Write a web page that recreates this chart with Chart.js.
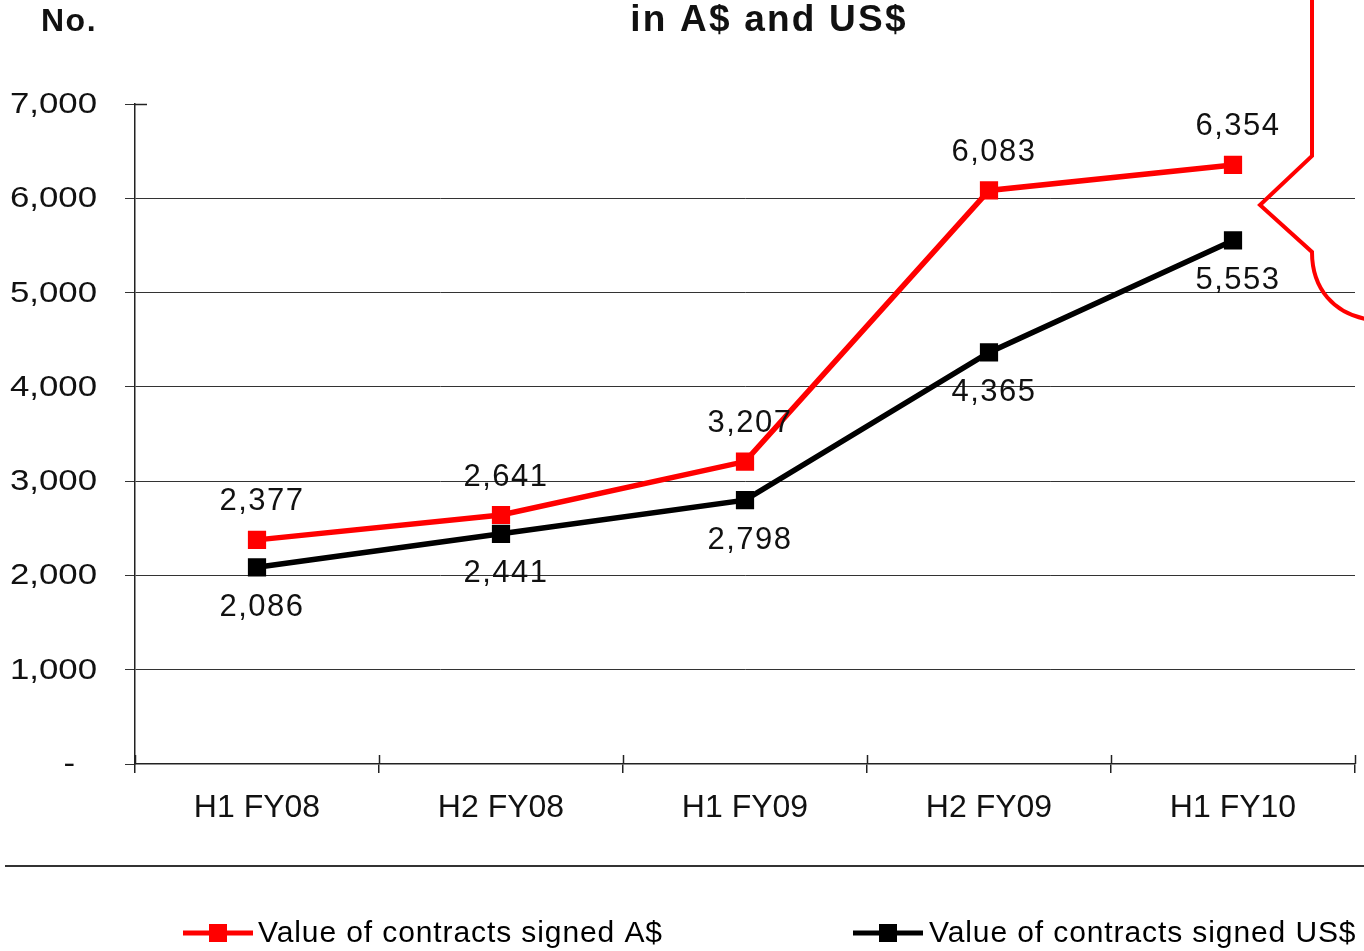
<!DOCTYPE html>
<html>
<head>
<meta charset="utf-8">
<script src="https://cdn.jsdelivr.net/npm/chart.js@4.4.1/dist/chart.umd.min.js"></script>
<style>
html,body{margin:0;padding:0;background:#fff;}
#wrap{width:1364px;height:951px;position:relative;}
</style>
</head>
<body>
<div id="wrap"><canvas id="c" width="1364" height="951"></canvas></div>
<script>
const categories = ["H1 FY08", "H2 FY08", "H1 FY09", "H2 FY09", "H1 FY10"];
const valuesAUD = [2377, 2641, 3207, 6083, 6354];
const valuesUSD = [2086, 2441, 2798, 4365, 5553];
const seriesNames = ["Value of contracts signed A$", "Value of contracts signed US$"];
const yTicks = [0, 1000, 2000, 3000, 4000, 5000, 6000, 7000];
const chartTitle = "in A$ and US$";
const yUnit = "No.";

const FONT = "'Liberation Sans', Arial, sans-serif";
const fmt = v => v === 0 ? "-" : v.toLocaleString("en-US");

const deco = {
  id: "deco",
  afterDatasetsDraw(chart) {
    const ctx = chart.ctx;
    const x = chart.scales.x, y = chart.scales.y;
    const ca = chart.chartArea;
    ctx.save();
    // inner halves of x tick marks
    ctx.strokeStyle = "#222"; ctx.lineWidth = 1.5;
    const step = x.getPixelForValue(1) - x.getPixelForValue(0);
    for (let i = 0; i <= categories.length; i++) {
      const px = Math.round(x.getPixelForValue(0) - step / 2 + i * step) + 0.5;
      ctx.beginPath(); ctx.moveTo(px, ca.bottom - 9); ctx.lineTo(px, ca.bottom); ctx.stroke();
    }
    // cross tick at top
    const yt = Math.round(y.getPixelForValue(7000)) + 0.5;
    ctx.beginPath(); ctx.moveTo(ca.left, yt); ctx.lineTo(ca.left + 12, yt); ctx.stroke();

    // y tick labels (horizontally stretched like the original)
    ctx.fillStyle = "#111";
    ctx.letterSpacing = "0px";
    ctx.font = "29px " + FONT;
    ctx.textAlign = "right"; ctx.textBaseline = "middle";
    y.ticks.forEach(t => {
      const py = y.getPixelForValue(t.value);
      const rx = t.value === 0 ? 75 : 97;
      ctx.save();
      ctx.translate(rx, py + 1);
      ctx.scale(1.2, 1);
      ctx.fillText(fmt(t.value), 0, 0);
      ctx.restore();
    });

    // data labels
    ctx.fillStyle = "#111";
    ctx.letterSpacing = "1.5px";
    ctx.font = "31px " + FONT;
    ctx.textAlign = "center"; ctx.textBaseline = "middle";
    chart.getDatasetMeta(0).data.forEach((p, i) => {
      ctx.fillText(fmt(valuesAUD[i]), p.x + 5, p.y - 38);
    });
    chart.getDatasetMeta(1).data.forEach((p, i) => {
      ctx.fillText(fmt(valuesUSD[i]), p.x + 5, p.y + 40);
    });

    // title and unit
    ctx.letterSpacing = "2.2px";
    ctx.font = "bold 37px " + FONT;
    ctx.textBaseline = "alphabetic";
    ctx.fillText(chartTitle, 769, 31);
    ctx.letterSpacing = "1.5px";
    ctx.font = "bold 32px " + FONT;
    ctx.textAlign = "left";
    ctx.fillText(yUnit, 41, 31);

    // callout shape on the right
    ctx.letterSpacing = "0px";
    ctx.strokeStyle = "#FF0000"; ctx.lineWidth = 4; ctx.lineJoin = "miter";
    ctx.beginPath();
    ctx.moveTo(1312, -5);
    ctx.lineTo(1312, 156);
    ctx.lineTo(1260, 205);
    ctx.lineTo(1312, 252);
    ctx.bezierCurveTo(1312, 290, 1335, 313, 1366, 319);
    ctx.stroke();

    // separator line
    ctx.strokeStyle = "#333"; ctx.lineWidth = 2;
    ctx.beginPath(); ctx.moveTo(5, 866); ctx.lineTo(1364, 866); ctx.stroke();

    // legend
    const items = [
      {x0: 183, color: chart.data.datasets[0].borderColor, text: chart.data.datasets[0].label, tx: 258},
      {x0: 853, color: chart.data.datasets[1].borderColor, text: chart.data.datasets[1].label, tx: 929}
    ];
    const ly = 933;
    items.forEach(it => {
      ctx.strokeStyle = it.color; ctx.lineWidth = 5;
      ctx.beginPath(); ctx.moveTo(it.x0, ly); ctx.lineTo(it.x0 + 70, ly); ctx.stroke();
      ctx.fillStyle = it.color;
      ctx.fillRect(it.x0 + 35 - 9, ly - 9, 18, 18);
      ctx.fillStyle = "#000";
      ctx.letterSpacing = "0.9px";
      ctx.font = "30px " + FONT;
      ctx.textAlign = "left"; ctx.textBaseline = "middle";
      ctx.fillText(it.text, it.tx, ly + 1);
    });
    ctx.restore();
  }
};

const canvas = document.getElementById("c");
canvas.getContext("2d").letterSpacing = "1.5px";

new Chart(canvas, {
  type: "line",
  data: {
    labels: categories,
    datasets: [
      {label: seriesNames[0], data: valuesAUD, borderColor: "#FF0000", backgroundColor: "#FF0000",
       borderWidth: 5.5, pointStyle: "rect", pointRadius: 9, pointHoverRadius: 9, tension: 0},
      {label: seriesNames[1], data: valuesUSD, borderColor: "#000000", backgroundColor: "#000000",
       borderWidth: 5.5, pointStyle: "rect", pointRadius: 9, pointHoverRadius: 9, tension: 0}
    ]
  },
  options: {
    responsive: false,
    animation: false,
    events: [],
    layout: {autoPadding: false, padding: {left: 0, right: 9, top: 104, bottom: 0}},
    plugins: {legend: {display: false}, title: {display: false}, tooltip: {enabled: false}},
    scales: {
      x: {
        offset: true,
        afterFit: s => { s.height = 187; s.paddingLeft = 0; s.paddingRight = 0; },
        grid: {offset: true, drawOnChartArea: false, drawTicks: true, tickLength: 9, color: "#222", lineWidth: 1.5},
        border: {display: true, color: "#222", width: 1.5},
        ticks: {color: "#111", font: {family: FONT, size: 32}, padding: 16, maxRotation: 0, autoSkip: false}
      },
      y: {
        min: 0, max: 7000,
        afterFit: s => { s.width = 135; s.paddingTop = 0; s.paddingBottom = 0; },
        afterBuildTicks: s => { s.ticks = yTicks.map(v => ({value: v})); },
        grid: {
          color: c => (c.tick && (c.tick.value === 7000 || c.tick.value === 0)) ? "rgba(0,0,0,0)" : "#333",
          tickColor: "#333", lineWidth: 1, tickLength: 10, drawTicks: true
        },
        border: {display: true, color: "#222", width: 1.5},
        ticks: {display: false}
      }
    }
  },
  plugins: [deco]
});
</script>
</body>
</html>
